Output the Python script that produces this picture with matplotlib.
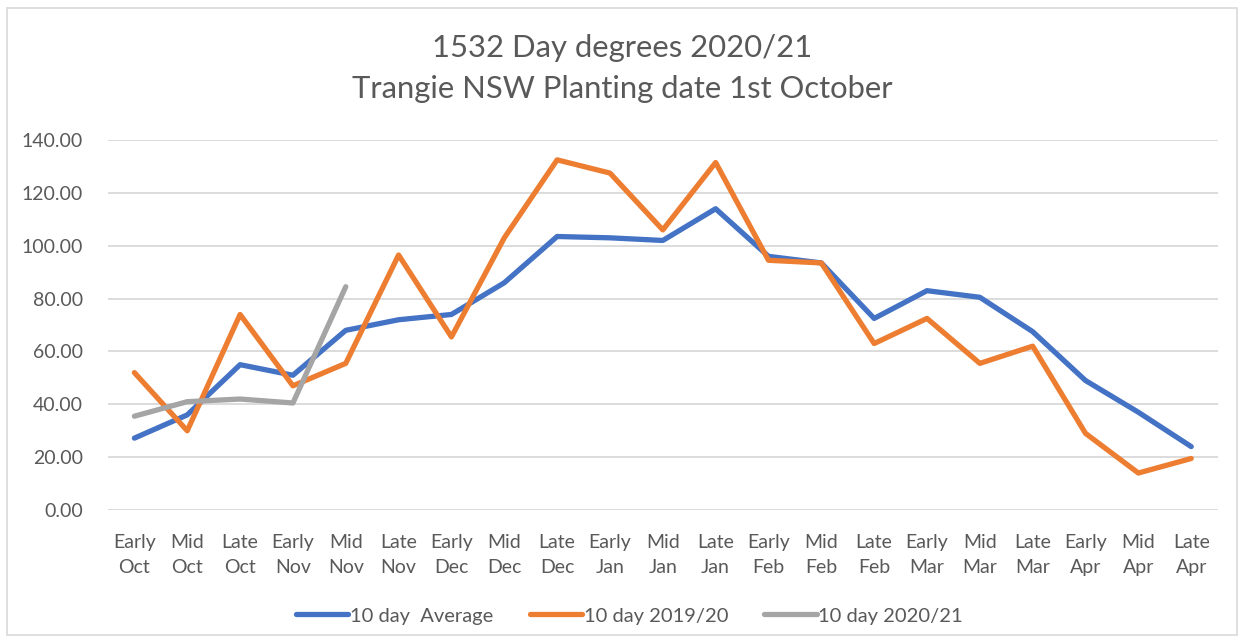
import matplotlib.pyplot as plt
from matplotlib.patches import Rectangle

periods = ['Early\nOct', 'Mid\nOct', 'Late\nOct', 'Early\nNov', 'Mid\nNov', 'Late\nNov',
           'Early\nDec', 'Mid\nDec', 'Late\nDec', 'Early\nJan', 'Mid\nJan', 'Late\nJan',
           'Early\nFeb', 'Mid\nFeb', 'Late\nFeb', 'Early\nMar', 'Mid\nMar', 'Late\nMar',
           'Early\nApr', 'Mid\nApr', 'Late\nApr']
avg = [27.2, 36, 55, 51, 68, 72, 74, 86, 103.5, 103, 102, 114, 96, 93.5, 72.5, 83, 80.5, 67.5, 49, 37, 24]
s1920 = [52, 30, 74, 47, 55.5, 96.5, 65.5, 103, 132.5, 127.5, 106, 131.5, 94.5, 93.5, 63, 72.5,
         55.5, 62, 29, 14, 19.5]
s2021 = [35.5, 41, 42, 40.5, 84.5]

plt.rcParams['font.family'] = ['Lato', 'DejaVu Sans']
txt = '#595959'

fig = plt.figure(figsize=(12.44, 6.43), dpi=100)
ax = fig.add_axes([0.0868, 0.2068, 0.892, 0.5754])

x = list(range(len(periods)))
ax.plot(x, avg, color='#4472C4', lw=3.8, label='10 day  Average', solid_capstyle='round')
ax.plot(x, s1920, color='#ED7D31', lw=3.8, label='10 day 2019/20', solid_capstyle='round')
ax.plot(x[:len(s2021)], s2021, color='#A5A5A5', lw=3.8, label='10 day 2020/21', solid_capstyle='round')

ax.set_xlim(-0.5, len(periods) - 0.5)
ax.set_ylim(0, 140)
ax.set_yticks(range(0, 141, 20))
ax.set_yticklabels(['%.2f' % v for v in range(0, 141, 20)])
ax.set_xticks(x)
ax.set_xticklabels(periods, linespacing=1.6)
ax.tick_params(length=0, labelsize=14, colors=txt)
ax.tick_params(axis='y', pad=18)
ax.tick_params(axis='x', pad=17)
ax.grid(axis='y', color='#D9D9D9', lw=1.3)
ax.set_axisbelow(True)
for s in ax.spines.values():
    s.set_visible(False)

fig.text(0.5, 0.926, '1532 Day degrees 2020/21', ha='center', va='center', fontsize=22.3, color=txt)
fig.text(0.5, 0.862, 'Trangie NSW Planting date 1st October', ha='center', va='center',
         fontsize=22.3, color=txt)

fig.legend(loc='center', bbox_to_anchor=(0.506, 0.042), ncol=3, frameon=False, fontsize=14.5,
           labelcolor=txt, handlelength=2.6, handletextpad=0.08, columnspacing=1.8)

fig.add_artist(Rectangle((0.006, 0.012), 0.988, 0.976, transform=fig.transFigure, fill=False,
                         edgecolor='#D9D9D9', lw=1.2))

fig.savefig('out.png', dpi=100)
